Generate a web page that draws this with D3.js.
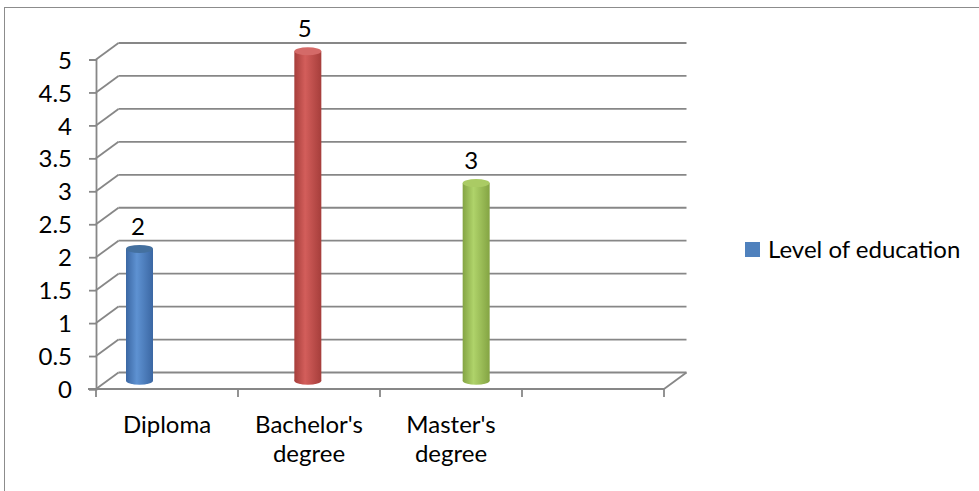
<!DOCTYPE html>
<html>
<head>
<meta charset="utf-8">
<script src="https://cdn.jsdelivr.net/npm/d3@7"></script>
<style>
  body { margin: 0; background: #fff; }
  text { font-family: Lato, "Noto Sans", sans-serif; fill: #000; }
</style>
</head>
<body>
<svg id="chart" width="979" height="491"></svg>
<script>
var categories = ["Diploma", "Bachelor's degree", "Master's degree", ""];
var values = [2, 5, 3, null];
var yTicks = [0, 0.5, 1, 1.5, 2, 2.5, 3, 3.5, 4, 4.5, 5];
var seriesName = "Level of education";

var colors = [
    {dark: "#3b67a3", light: "#5e92d2", top: "#44709f"},
    {dark: "#a63e3b", light: "#d35e5b", top: "#d46a68"},
    {dark: "#84a443", light: "#afd36a", top: "#aacb64"}
];

// depth offset for the 3d walls
var dx = 22.5, dy = -16.5;
var fontSize = "24px";

var svg = d3.select("#chart");

// outer frame
svg.append("rect")
    .attr("x", 4.5).attr("y", 7.5)
    .attr("width", 1000).attr("height", 500)
    .attr("fill", "none")
    .attr("stroke", "#8c8c8c")
    .attr("stroke-width", 1);

// scales
var yFront = d3.scaleLinear().domain([0, 5]).range([389, 59.5]);
var yMid = d3.scaleLinear().domain([0, 5]).range([389 + dy / 2, 59.5 + dy / 2]);

var xBand = d3.scaleBand()
    .domain(categories)
    .range([96, 664]);

var xBar = d3.scalePoint()
    .domain(categories)
    .range([139.5, 644.5]);

var xLabel = d3.scalePoint()
    .domain(categories)
    .range([138, 638]);

var g = svg.append("g");
var gridColor = "#878787";

// back wall gridlines + left wall slants
yTicks.forEach(function(t) {
    var y = yFront(t);
    g.append("line")
        .attr("x1", 96 + dx).attr("x2", 664 + dx)
        .attr("y1", y + dy).attr("y2", y + dy)
        .attr("stroke", gridColor).attr("stroke-width", 1.8);
    g.append("line")
        .attr("x1", 96).attr("y1", y)
        .attr("x2", 96 + dx).attr("y2", y + dy)
        .attr("stroke", gridColor).attr("stroke-width", 1.8);
});

// floor front edge and right slant
g.append("line")
    .attr("x1", 88).attr("x2", 664)
    .attr("y1", yFront(0)).attr("y2", yFront(0))
    .attr("stroke", gridColor).attr("stroke-width", 1.8);
g.append("line")
    .attr("x1", 664).attr("y1", yFront(0))
    .attr("x2", 664 + dx).attr("y2", yFront(0) + dy)
    .attr("stroke", gridColor).attr("stroke-width", 1.8);

// y axis
var yAxis = d3.axisLeft(yFront)
    .tickValues(yTicks)
    .tickFormat(d3.format("~g"))
    .tickSize(7)
    .tickPadding(17);
var ya = svg.append("g")
    .attr("transform", "translate(96,0)")
    .call(yAxis);
ya.select(".domain").attr("stroke", gridColor).attr("stroke-width", 1.8);
ya.selectAll(".tick line").attr("stroke", gridColor).attr("stroke-width", 1.8);
ya.selectAll(".tick text")
    .style("font-size", fontSize)
    .attr("dy", "0.36em");

// x ticks at band boundaries
var bounds = categories.map(function(c) { return xBand(c); }).concat([664]);
g.selectAll(".xtick")
    .data(bounds)
    .enter().append("line")
    .attr("x1", function(d) { return d; })
    .attr("x2", function(d) { return d; })
    .attr("y1", yFront(0)).attr("y2", yFront(0) + 8)
    .attr("stroke", gridColor).attr("stroke-width", 1.8);

// x labels (wrapped on space)
categories.forEach(function(c) {
    if (!c) return;
    var words = c.split(" ");
    var t = svg.append("text")
        .attr("text-anchor", "middle")
        .style("font-size", fontSize)
        .attr("x", xBand(c) + xBand.bandwidth() / 2)
        .attr("y", 433);
    words.forEach(function(w, i) {
        t.append("tspan")
            .attr("x", xBand(c) + xBand.bandwidth() / 2)
            .attr("dy", i === 0 ? 0 : 28.5)
            .text(w);
    });
});

// gradients for cylinders
var defs = svg.append("defs");
colors.forEach(function(col, i) {
    var grad = defs.append("linearGradient")
        .attr("id", "cyl" + i)
        .attr("x1", "0%").attr("x2", "100%")
        .attr("y1", "0%").attr("y2", "0%");
    grad.append("stop").attr("offset", "0%").attr("stop-color", col.dark);
    grad.append("stop").attr("offset", "40%").attr("stop-color", col.light);
    grad.append("stop").attr("offset", "100%").attr("stop-color", col.dark);
});

// cylinders
var rx = 13.5, ry = 4;
var bars = categories.map(function(c, i) { return {cat: c, v: values[i], i: i}; })
    .filter(function(d) { return d.v != null; });

var bg = svg.append("g");
bars.forEach(function(d) {
    var cx = xBar(d.cat);
    var y0 = yMid(0), y1 = yMid(d.v);
    var fill = "url(#cyl" + d.i + ")";
    bg.append("ellipse")
        .attr("cx", cx).attr("cy", y0)
        .attr("rx", rx).attr("ry", ry)
        .attr("fill", fill);
    bg.append("rect")
        .attr("x", cx - rx).attr("y", y1)
        .attr("width", rx * 2).attr("height", y0 - y1)
        .attr("fill", fill);
    bg.append("ellipse")
        .attr("cx", cx).attr("cy", y1)
        .attr("rx", rx).attr("ry", ry)
        .attr("fill", colors[d.i].top);
});

// value labels
svg.selectAll(".vlabel")
    .data(bars)
    .enter().append("text")
    .attr("text-anchor", "middle")
    .style("font-size", fontSize)
    .attr("x", function(d) { return xLabel(d.cat); })
    .attr("y", function(d) { return yMid(d.v) - 14; })
    .text(function(d) { return d.v; });

// legend
var lg = svg.append("g").attr("transform", "translate(745,242)");
lg.append("rect")
    .attr("width", 15).attr("height", 15)
    .attr("fill", "#4f81bd");
lg.append("text")
    .attr("x", 23).attr("y", 16)
    .style("font-size", fontSize)
    .text(seriesName);
</script>
</body>
</html>
